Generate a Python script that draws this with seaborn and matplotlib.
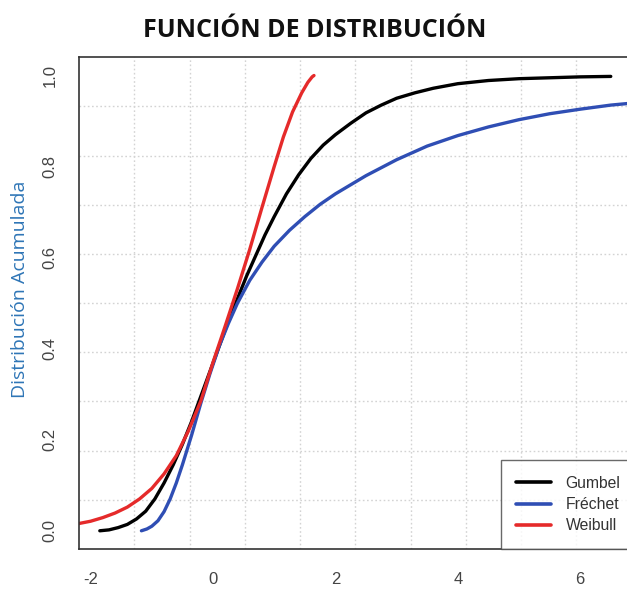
import numpy as np
import pandas as pd
import matplotlib
matplotlib.use("Agg")
import matplotlib.pyplot as plt
from matplotlib.lines import Line2D
import seaborn as sns

# ---- data ----
gumbel_x = [-1.85, -1.7, -1.55, -1.4, -1.25, -1.1, -0.95, -0.8, -0.65, -0.5, -0.35, -0.2,
            -0.05, 0.1, 0.25, 0.4, 0.55, 0.7, 0.85, 1.0, 1.2, 1.4, 1.6, 1.8, 2.0, 2.25,
            2.5, 2.75, 3.0, 3.3, 3.6, 4.0, 4.5, 5.0, 5.5, 6.0, 6.5]
gumbel_y = [0.0, 0.002, 0.007, 0.014, 0.026, 0.043, 0.07, 0.105, 0.145, 0.19, 0.24, 0.295,
            0.35, 0.405, 0.46, 0.51, 0.56, 0.605, 0.65, 0.69, 0.74, 0.782, 0.818, 0.847, 0.87,
            0.895, 0.918, 0.935, 0.95, 0.962, 0.972, 0.982, 0.989, 0.993, 0.995, 0.997, 0.998]

frechet_x = [-1.17, -1.08, -1.0, -0.9, -0.8, -0.7, -0.6, -0.5, -0.35, -0.2, -0.05, 0.1,
             0.25, 0.4, 0.6, 0.8, 1.0, 1.25, 1.5, 1.75, 2.0, 2.5, 3.0, 3.5, 4.0, 4.5,
             5.0, 5.5, 6.0, 6.5, 6.9]
frechet_y = [0.0, 0.004, 0.01, 0.022, 0.042, 0.07, 0.105, 0.145, 0.21, 0.28, 0.345, 0.405,
             0.455, 0.5, 0.55, 0.59, 0.625, 0.66, 0.69, 0.717, 0.74, 0.78, 0.815, 0.845,
             0.868, 0.887, 0.903, 0.916, 0.926, 0.935, 0.94]

weibull_x = [-2.4, -2.19, -2.0, -1.8, -1.6, -1.4, -1.2, -1.0, -0.8, -0.6, -0.4, -0.2,
             0.0, 0.2, 0.4, 0.6, 0.8, 1.0, 1.15, 1.3, 1.45, 1.55, 1.62, 1.65]
weibull_y = [0.01, 0.016, 0.021, 0.029, 0.039, 0.052, 0.07, 0.093, 0.125, 0.165, 0.22, 0.285,
             0.37, 0.45, 0.532, 0.618, 0.71, 0.80, 0.865, 0.92, 0.962, 0.985, 0.997, 1.0]

series_names = ["Gumbel", "Fréchet", "Weibull"]
series_colors = ["#000000", "#2F4EB4", "#E52A2A"]

x_ticks = [-2, 0, 2, 4, 6]
y_ticks = [0.0, 0.2, 0.4, 0.6, 0.8, 1.0]
title_text = "FUNCIÓN DE DISTRIBUCIÓN"
ylabel_text = "Distribución Acumulada"

df = pd.concat([
    pd.DataFrame({"x": gumbel_x, "F": gumbel_y, "dist": series_names[0]}),
    pd.DataFrame({"x": frechet_x, "F": frechet_y, "dist": series_names[1]}),
    pd.DataFrame({"x": weibull_x, "F": weibull_y, "dist": series_names[2]}),
], ignore_index=True)

sns.set_style("white")
plt.rcParams["font.family"] = ["Liberation Sans", "DejaVu Sans"]
plt.rcParams["axes.unicode_minus"] = False

fig = plt.figure(figsize=(6.27, 5.90), dpi=100)
ax = fig.add_axes([0.126, 0.0695, 0.8813, 0.8334])

xlim = (-2.19, 6.84)
ylim = (-0.04, 1.04)

# dotted grid dividing the plot region into equal cells (R grid() style)
for gx in np.linspace(xlim[0], xlim[1], 11)[1:-1]:
    ax.axvline(gx, color="#D3D3D3", lw=1.0, ls=(0, (1.2, 1.8)), zorder=0)
for gy in np.linspace(ylim[0], ylim[1], 11)[1:-1]:
    ax.axhline(gy, color="#D3D3D3", lw=1.0, ls=(0, (1.2, 1.8)), zorder=0)

sns.lineplot(data=df, x="x", y="F", hue="dist", palette=series_colors,
             hue_order=series_names, sort=False, estimator=None, units="dist",
             lw=2.4, ax=ax, legend=False)

ax.set_xlim(*xlim)
ax.set_ylim(*ylim)
ax.set_xticks(x_ticks)
ax.set_xticklabels([str(t) for t in x_ticks])
ax.set_yticks(y_ticks)
ax.set_yticklabels([f"{t:.1f}" for t in y_ticks], rotation=90, va="center")
ax.tick_params(axis="both", direction="out", length=7.5, width=1.0, color="#555555",
               labelcolor="#444444", labelsize=12)
ax.tick_params(axis="x", pad=9)
ax.tick_params(axis="y", pad=8)
for s in ax.spines.values():
    s.set_color("#333333")
    s.set_linewidth(1.2)
ax.set_xlabel("")
ax.set_ylabel("")

handles = [Line2D([], [], color=c, lw=2.6) for c in series_colors]
leg = ax.legend(handles, series_names, loc="lower left", bbox_to_anchor=(0.763, 0.0),
                borderaxespad=0, frameon=True, fancybox=False, fontsize=11.3,
                handlelength=2.2, handletextpad=0.95, labelspacing=0.4,
                borderpad=1.0)
leg.get_frame().set_edgecolor("#444444")
leg.get_frame().set_linewidth(1.0)
for t in leg.get_texts():
    t.set_color("#333333")

fig.text(0.502, 0.949, title_text, ha="center", va="center", fontsize=18,
         fontweight="bold", family=["Open Sans", "DejaVu Sans"], color="#111111")
fig.text(0.032, 0.51, ylabel_text, ha="center", va="center", rotation=90,
         fontsize=14, family=["Open Sans", "DejaVu Sans"], color="#2E75B6")

fig.savefig("out.png", dpi=100)
